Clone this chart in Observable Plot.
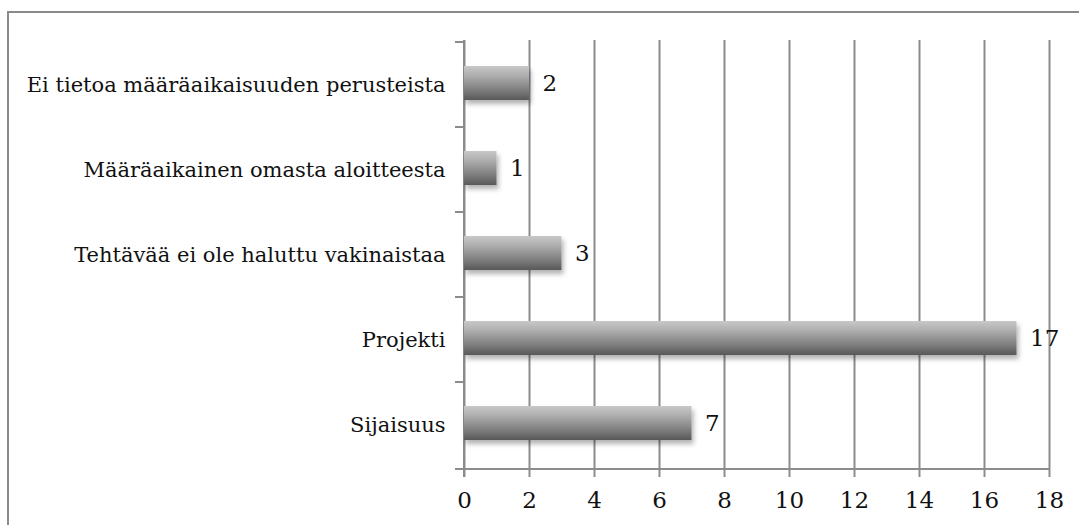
<!DOCTYPE html>
<html>
<head>
<meta charset="utf-8">
<script src="https://cdn.jsdelivr.net/npm/d3@7"></script>
<script src="https://cdn.jsdelivr.net/npm/@observablehq/plot@0.6"></script>
<style>
  html, body { margin: 0; padding: 0; background: #fff; overflow: hidden; }
  #wrap { position: relative; width: 1079px; height: 525px; }
  #border { position: absolute; left: 7px; top: 11px; width: 1200px; height: 700px;
            border-top: 2px solid #8a8a8a; border-left: 2px solid #8a8a8a; box-sizing: border-box; }
  #chart { position: absolute; left: 0; top: 0; }
</style>
</head>
<body>
<div id="wrap"><div id="border"></div><div id="chart"></div></div>
<script>
const categories = [
  "Ei tietoa määräaikaisuuden perusteista",
  "Määräaikainen omasta aloitteesta",
  "Tehtävää ei ole haluttu vakinaistaa",
  "Projekti",
  "Sijaisuus"
];
const values = [2, 1, 3, 17, 7];
const xTicks = [0, 2, 4, 6, 8, 10, 12, 14, 16, 18];

const data = categories.map((c, i) => ({category: c, value: values[i]}));

const FONT = "DejaVu Serif";
const GRAY = "#8c8c8c";
const FS = 21;
const NUM_FS = 23;

const defsMark = () => {
  const defs = d3.create("svg:defs");
  const g = defs.append("linearGradient").attr("id", "barGrad")
    .attr("x1", 0).attr("y1", 0).attr("x2", 0).attr("y2", 1);
  [[0, "#c8c8c8"], [0.3, "#acacac"], [0.7, "#7e7e7e"], [1, "#585858"]]
    .forEach(([o, c]) => g.append("stop").attr("offset", o).attr("stop-color", c));
  const f = defs.append("filter").attr("id", "barShadow")
    .attr("x", "-10%").attr("y", "-20%").attr("width", "130%").attr("height", "160%");
  f.append("feDropShadow").attr("dx", 2).attr("dy", 4).attr("stdDeviation", 2.5)
    .attr("flood-color", "#000").attr("flood-opacity", 0.3);
  return defs.node();
};

const axesMark = (index, scales, values, dims) => {
  const g = d3.create("svg:g").attr("stroke", GRAY).attr("stroke-width", 2);
  const x0 = scales.x(0), x1 = scales.x(xTicks[xTicks.length - 1]);
  const yb = dims.height - dims.marginBottom;
  const yt = dims.marginTop;
  g.append("line").attr("x1", x0 - 9).attr("x2", x1 + 1).attr("y1", yb).attr("y2", yb);
  g.append("line").attr("x1", x0).attr("x2", x0).attr("y1", yt).attr("y2", yb + 8);
  categories.forEach(c => {
    const y = scales.y(c);
    g.append("line").attr("x1", x0 - 9).attr("x2", x0).attr("y1", y).attr("y2", y);
  });
  return g.node();
};

const chart = Plot.plot({
  width: 1079,
  height: 525,
  marginLeft: 464,
  marginRight: 30,
  marginTop: 40,
  marginBottom: 56,
  style: {fontFamily: FONT, fontSize: FS + "px", color: "#111", background: "transparent"},
  x: {domain: [0, 18], ticks: xTicks},
  y: {domain: categories, padding: 0},
  marks: [
    defsMark,
    Plot.gridX(xTicks, {stroke: GRAY, strokeOpacity: 1, strokeWidth: 2}),
    axesMark,
    Plot.axisX(xTicks, {tickSize: 8, tickPadding: 14, stroke: GRAY, strokeWidth: 2, fontSize: NUM_FS, fill: "#111", label: null}),
    Plot.axisY({tickSize: 0, tickPadding: 19, fontSize: FS, fill: "#111", label: null}),
    Plot.barX(data, {x: "value", y: "category", fill: "url(#barGrad)", insetTop: 24, insetBottom: 27}),
    Plot.text(data, {x: "value", y: "category", text: d => String(d.value), dx: 13, dy: -1, textAnchor: "start", fontSize: NUM_FS, fill: "#111"})
  ]
});

d3.select(chart).selectAll("g[aria-label='bar'] rect").attr("filter", "url(#barShadow)");
document.getElementById("chart").appendChild(chart);
</script>
</body>
</html>
